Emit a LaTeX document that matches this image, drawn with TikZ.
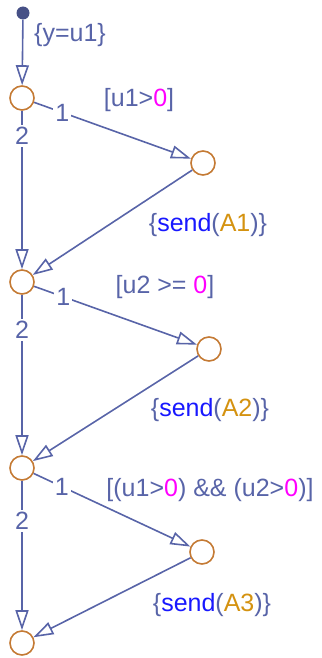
\documentclass[tikz,border=0pt]{standalone}
\usepackage{fontspec}
\setmainfont{Liberation Sans}
\usepackage{xcolor}
\usetikzlibrary{arrows.meta}

\definecolor{trans}{RGB}{88,100,168}
\definecolor{junc}{RGB}{196,122,52}
\definecolor{sendblue}{RGB}{24,24,255}
\definecolor{evtorange}{RGB}{212,146,16}
\definecolor{constpink}{RGB}{255,0,255}
\newcommand{\zr}{\textcolor{constpink}{0}}
\newcommand{\sendev}[1]{\{\textcolor{sendblue}{send}(\textcolor{evtorange}{#1})\}}

\begin{document}
\begin{tikzpicture}[x=1pt,y=-1pt,
junction/.style={circle,draw=junc,line width=1.6pt,minimum size=24pt,inner sep=0pt},
arr/.style={draw=trans,line width=1.6pt,-{Triangle[open,length=20pt,width=13pt]}},
lbl/.style={text=trans,font=\fontsize{25}{30}\selectfont,inner sep=1pt},
ord/.style={lbl,fill=white,inner sep=2pt}
]
\useasboundingbox (0,0) rectangle (321,658);
% junctions
\node[junction] (j0) at (22,98) {};
\node[junction] (j1) at (22,282) {};
\node[junction] (j2) at (22,468) {};
\node[junction] (j3) at (22,643) {};
\node[junction] (r1) at (203,163) {};
\node[junction] (r2) at (209,349) {};
\node[junction] (r3) at (202,552) {};
\node[circle,fill=trans!80!black,inner sep=0pt,minimum size=13pt] (dflt) at (23,13) {};
% labels
\node[lbl] (init) at (70,35) {\{y=u1\}};
\node[lbl] (c1) at (139,100) {[u1>\zr]};
\node[lbl] (a1) at (208,225) {\sendev{A1}};
\node[lbl] (c2) at (165,287) {[u2 >= \zr]};
\node[lbl] (a2) at (210,410) {\sendev{A2}};
\node[lbl] (c3) at (210,490) {[(u1>\zr) \&\& (u2>\zr)]};
\node[lbl] (a3) at (212,605) {\sendev{A3}};
% transitions
\draw[arr] (dflt) -- (j0);
\draw[arr] (j0) -- node[ord,pos=0.18] {1} (r1);
\draw[arr] (j0) -- node[ord,pos=0.16] {2} (j1);
\draw[arr] (r1) -- (j1);
\draw[arr] (j1) -- node[ord,pos=0.18] {1} (r2);
\draw[arr] (j1) -- node[ord,pos=0.22] {2} (j2);
\draw[arr] (r2) -- (j2);
\draw[arr] (j2) -- node[ord,pos=0.18] {1} (r3);
\draw[arr] (j2) -- node[ord,pos=0.27] {2} (j3);
\draw[arr] (r3) -- (j3);
\end{tikzpicture}
\end{document}
